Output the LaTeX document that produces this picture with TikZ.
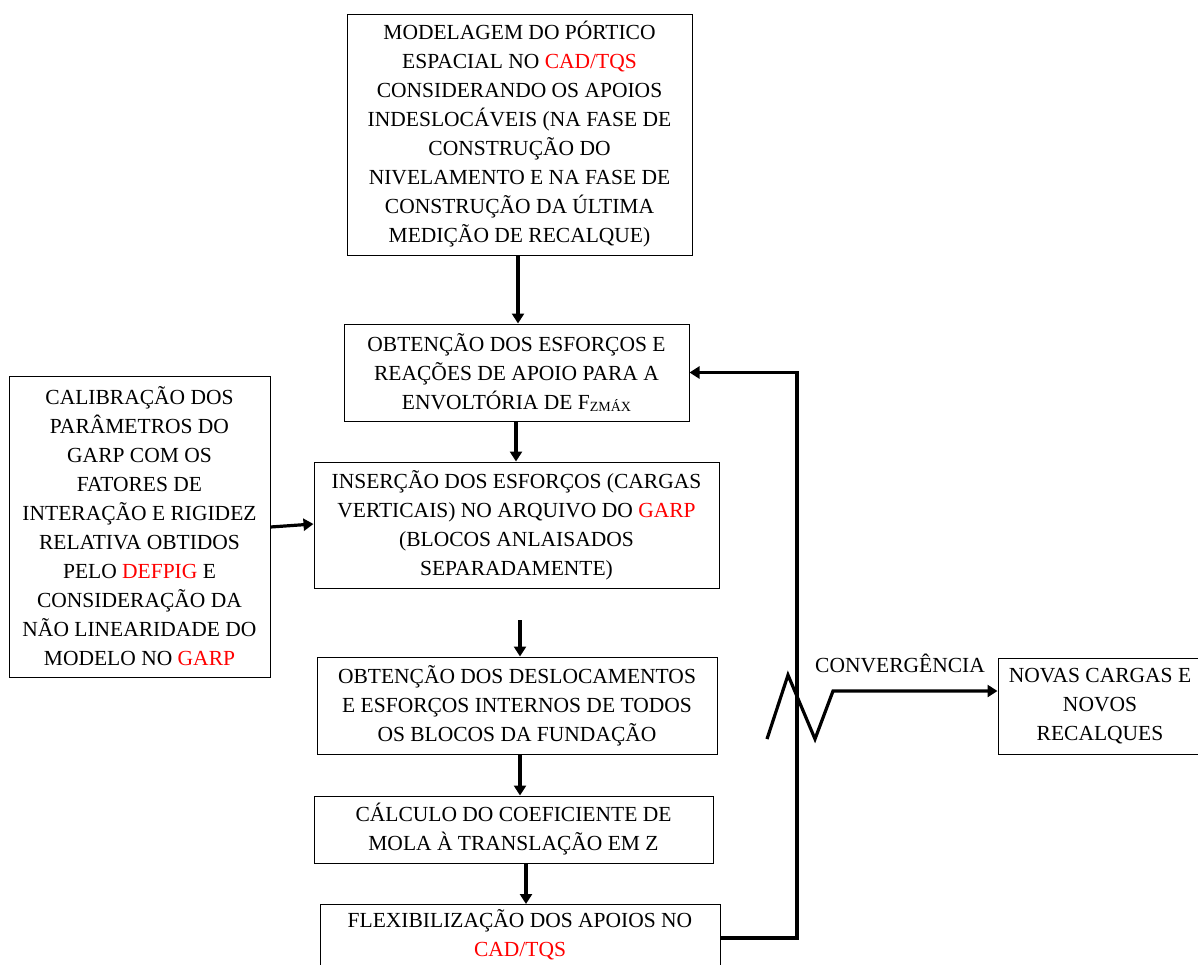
\documentclass[tikz,border=0pt]{standalone}
\usepackage{fontspec}
\setmainfont{Liberation Serif}
\usetikzlibrary{arrows.meta}
\definecolor{hl}{RGB}{255,0,0}
\newcommand{\hlt}[1]{\textcolor{hl}{#1}}
\tikzset{
  box/.style={draw, line width=1pt, align=center, inner sep=0pt,
    font=\fontsize{21.5}{29}\selectfont},
  arr/.style={line width=3.2pt, -{Triangle[length=10pt,width=12pt]}},
}
\begin{document}
\begin{tikzpicture}[x=1pt,y=-1pt]
\clip (0,0) rectangle (1198,964);
\fill[white] (0,0) rectangle (1198,964);

\node[box, minimum width=345pt, minimum height=241pt] (b1) at (519.5,134.5)
  {MODELAGEM DO PÓRTICO\\ESPACIAL NO \hlt{CAD/TQS}\\CONSIDERANDO OS APOIOS\\INDESLOCÁVEIS (NA FASE DE\\CONSTRUÇÃO DO\\NIVELAMENTO E NA FASE DE\\CONSTRUÇÃO DA ÚLTIMA\\MEDIÇÃO DE RECALQUE)};

\node[box, minimum width=345pt, minimum height=97pt] (b2) at (516.5,372.5)
  {OBTENÇÃO DOS ESFORÇOS E\\REAÇÕES DE APOIO PARA A\\ENVOLTÓRIA DE F\raisebox{-0.3ex}{\fontsize{14}{14}\selectfont ZMÁX}};

\node[box, minimum width=405pt, minimum height=126pt] (b3) at (516.5,525)
  {INSERÇÃO DOS ESFORÇOS (CARGAS\\VERTICAIS) NO ARQUIVO DO \hlt{GARP}\\(BLOCOS ANLAISADOS\\SEPARADAMENTE)};

\node[box, minimum width=261pt, minimum height=301pt] (bl) at (139.5,526.5)
  {CALIBRAÇÃO DOS\\PARÂMETROS DO\\GARP COM OS\\FATORES DE\\INTERAÇÃO E RIGIDEZ\\RELATIVA OBTIDOS\\PELO \hlt{DEFPIG} E\\CONSIDERAÇÃO DA\\NÃO LINEARIDADE DO\\MODELO NO \hlt{GARP}};

\node[box, minimum width=400pt, minimum height=97pt] (b4) at (517,705.5)
  {OBTENÇÃO DOS DESLOCAMENTOS\\E ESFORÇOS INTERNOS DE TODOS\\OS BLOCOS DA FUNDAÇÃO};

\node[box, minimum width=399pt, minimum height=67pt] (b5) at (513.5,829.5)
  {CÁLCULO DO COEFICIENTE DE\\MOLA À TRANSLAÇÃO EM Z};

\node[box, minimum width=400pt, minimum height=68pt, anchor=north] (b6) at (520,904)
  {};
\node[font=\fontsize{21.5}{29}\selectfont, align=center, anchor=north, inner sep=0pt] (b6t) at (520,909)
  {FLEXIBILIZAÇÃO DOS APOIOS NO\\\hlt{CAD/TQS}};

\node[box, minimum width=204pt, minimum height=96pt] (b7) at (1100,706)
  {NOVAS CARGAS E\\NOVOS\\RECALQUES};

\node[font=\fontsize{21.5}{29}\selectfont, inner sep=0pt] (lc) at (900,663) {CONVERGÊNCIA};

% connectors
\draw[arr] (b1.south -| 518,0) -- (518,0 |- b2.north);
\draw[arr] (b2.south -| 516,0) -- (516,0 |- b3.north);
\draw[arr] (bl.east |- 0,527) -- (b3.west |- 0,524);
\coordinate (c34) at (520,620);
\draw[arr] (c34) -- (c34 |- b4.north);
\draw[arr] (b4.south -| 520,0) -- (520,0 |- b5.north);
\coordinate (c56) at (526,863);
\draw[arr] (c56) -- (c56 |- b6.north);
\coordinate (fb) at (797,938);
\draw[arr] (b6.east |- fb) -- (fb) |- (b2.east);

\coordinate (z1) at (767,739);
\coordinate (z2) at (788,675);
\coordinate (z3) at (815,739);
\coordinate (z4) at (833,691);
\draw[arr, line join=miter] (z1) -- (z2) -- (z3) -- (z4) -- (b7.west |- z4);
\end{tikzpicture}
\end{document}
